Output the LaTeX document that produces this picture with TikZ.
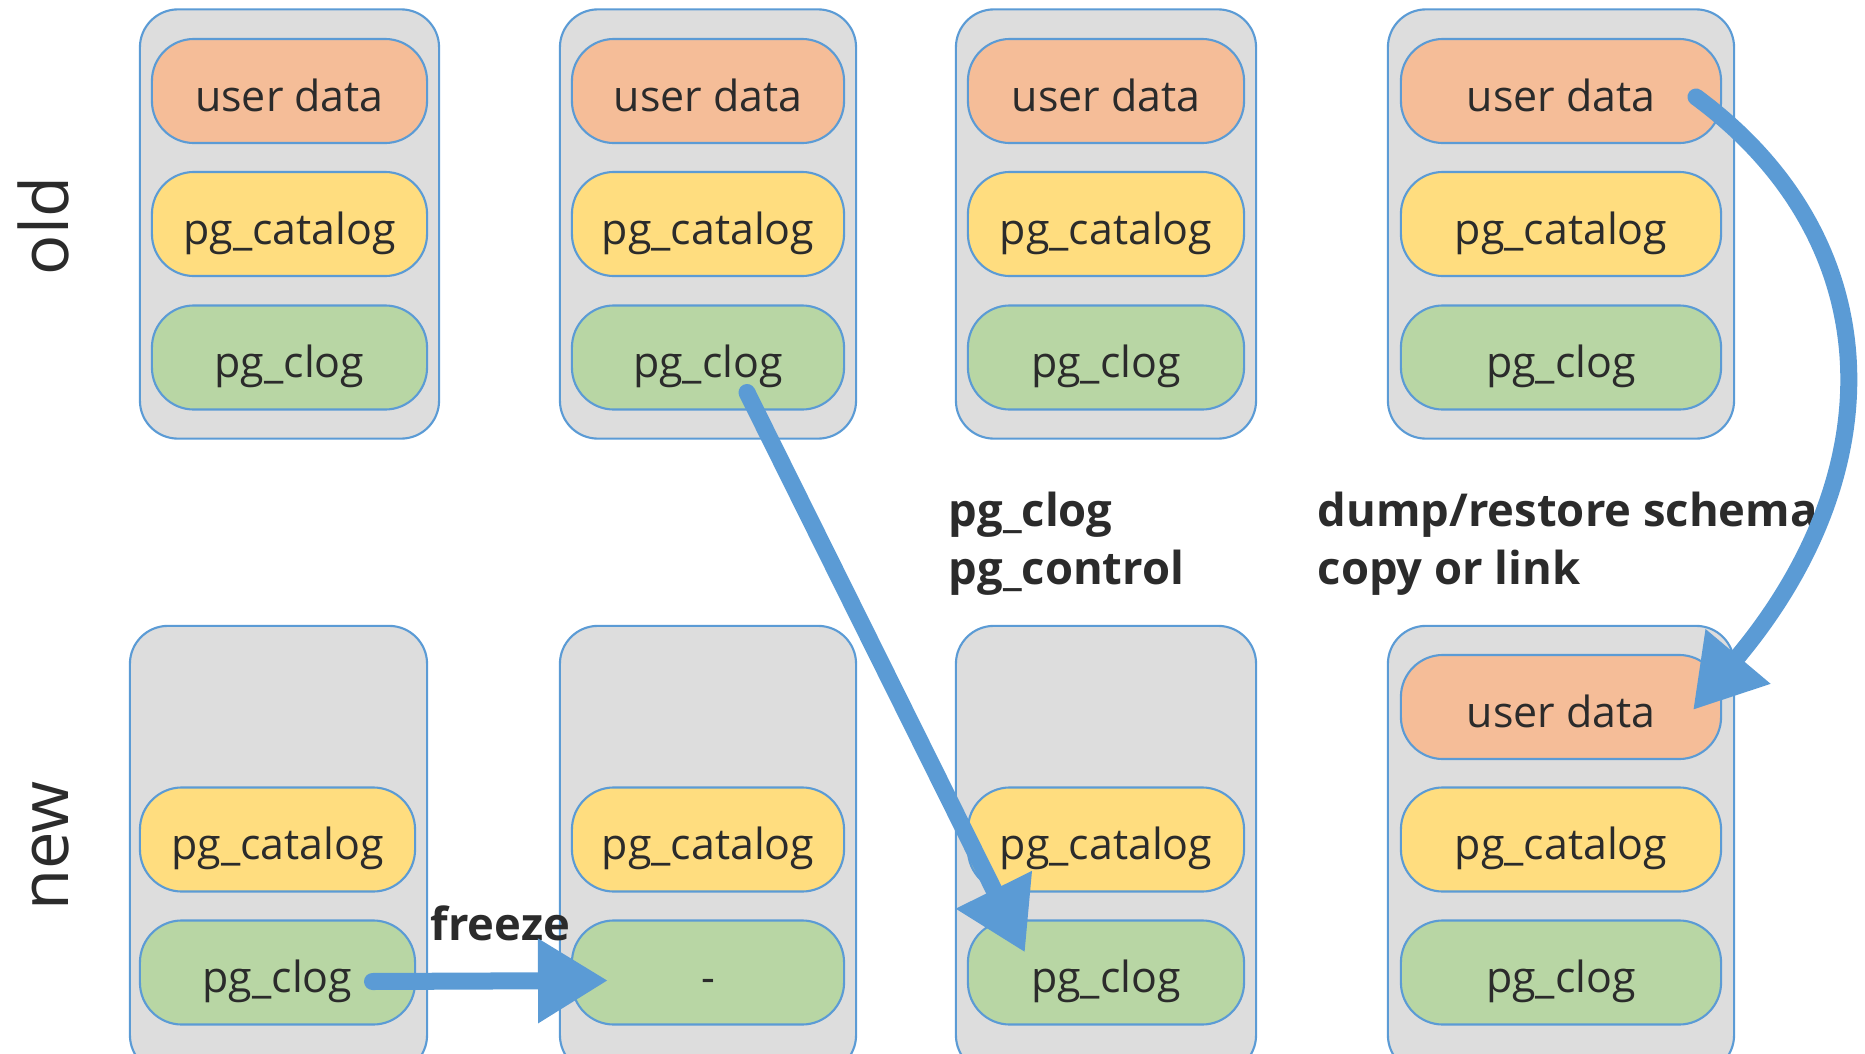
\documentclass[tikz,border=0pt]{standalone}
\usepackage{xcolor}
\usepackage{tikz}
\usetikzlibrary{arrows.meta, positioning, calc}
\usepackage{fontspec}
\setmainfont{Open Sans}
\definecolor{boxblue}{HTML}{5B9BD5}
\definecolor{arrowblue}{HTML}{5B9BD5}
\definecolor{panelgray}{HTML}{DDDDDD}
\definecolor{userorange}{HTML}{F5BD98}
\definecolor{catyellow}{HTML}{FFDD7F}
\definecolor{cloggreen}{HTML}{B8D6A4}
\definecolor{textgray}{HTML}{2B2B2B}

\begin{document}
\begin{tikzpicture}[x=0.01cm, y=-0.01cm,
				panel/.style={draw=boxblue, fill=panelgray, line width=0.6pt, rounded corners=0.38cm, inner sep=0pt},
				slot/.style={draw=boxblue, line width=0.6pt, rounded corners=0.42cm, minimum height=1.04cm, inner sep=0pt,
					text height=0.4cm, text depth=0pt, text=textgray, font=\fontsize{12.2}{15}\selectfont},
				udata/.style={slot, fill=userorange},
				catalog/.style={slot, fill=catyellow},
				clogbox/.style={slot, fill=cloggreen},
				note/.style={align=left, inner sep=0pt, text=textgray, font=\bfseries\fontsize{12.9}{16.5}\selectfont},
				sidetag/.style={anchor=base, rotate=90, inner sep=0pt, text=textgray, font=\fontsize{19}{23}\selectfont},
				bigarrow/.style={-{Triangle[length=0.7cm, width=0.8cm]}, draw=arrowblue, line width=0.17cm, line cap=round}]
				\useasboundingbox (0,0) rectangle (1865,1054);
				\clip (0,0) rectangle (1865,1054);
				\node at (68,226) (oldtag) [sidetag] {old};
				\node at (68,846) (newtag) [sidetag] {new};
				\node at (289.5,224) (old1) [panel, minimum width=2.99cm, minimum height=4.29cm] {};
				\node at (708,224) (old2) [panel, minimum width=2.96cm, minimum height=4.29cm] {};
				\node at (1106,224) (old3) [panel, minimum width=3cm, minimum height=4.29cm] {};
				\node at (1561,224) (old4) [panel, minimum width=3.46cm, minimum height=4.29cm] {};
				\node at (278.5,849.5) (new1) [panel, minimum width=2.97cm, minimum height=4.47cm] {};
				\node at (708,849.5) (new2) [panel, minimum width=2.96cm, minimum height=4.47cm] {};
				\node at (1106,849.5) (new3) [panel, minimum width=3cm, minimum height=4.47cm] {};
				\node at (1561,849.5) (new4) [panel, minimum width=3.46cm, minimum height=4.47cm] {};
				\node at (289.5,91) (oldud1) [udata, minimum width=2.75cm] {user data};
				\node at (289.5,224) (oldcat1) [catalog, minimum width=2.75cm] {pg\_catalog};
				\node at (289.5,357.5) (oldclog1) [clogbox, minimum width=2.75cm] {pg\_clog};
				\node at (708,91) (oldud2) [udata, minimum width=2.72cm] {user data};
				\node at (708,224) (oldcat2) [catalog, minimum width=2.72cm] {pg\_catalog};
				\node at (708,357.5) (oldclog2) [clogbox, minimum width=2.72cm] {pg\_clog};
				\node at (1106,91) (oldud3) [udata, minimum width=2.76cm] {user data};
				\node at (1106,224) (oldcat3) [catalog, minimum width=2.76cm] {pg\_catalog};
				\node at (1106,357.5) (oldclog3) [clogbox, minimum width=2.76cm] {pg\_clog};
				\node at (1561,91) (oldud4) [udata, minimum width=3.2cm] {user data};
				\node at (1561,224) (oldcat4) [catalog, minimum width=3.2cm] {pg\_catalog};
				\node at (1561,357.5) (oldclog4) [clogbox, minimum width=3.2cm] {pg\_clog};
				\node at (277.5,839.5) (newcat1) [catalog, minimum width=2.75cm] {pg\_catalog};
				\node at (277.5,972.5) (newclog1) [clogbox, minimum width=2.75cm] {pg\_clog};
				\node at (708,839.5) (newcat2) [catalog, minimum width=2.72cm] {pg\_catalog};
				\node at (708,972.5) (newclog2) [clogbox, minimum width=2.72cm] {-};
				\node at (1106,839.5) (newcat3) [catalog, minimum width=2.76cm] {pg\_catalog};
				\node at (1106,972.5) (newclog3) [clogbox, minimum width=2.76cm] {pg\_clog};
				\node at (1561,707) (newud4) [udata, minimum width=3.2cm] {user data};
				\node at (1561,839.5) (newcat4) [catalog, minimum width=3.2cm] {pg\_catalog};
				\node at (1561,972.5) (newclog4) [clogbox, minimum width=3.2cm] {pg\_clog};
				\node at (948,491) (clognote) [note, anchor=north west] {pg\_clog\\pg\_control};
				\node at (1317,491) (schemanote) [note, anchor=north west] {dump/restore schema\\copy or link};
				\node at (430,940) (freezenote) [note, anchor=base west] {freeze};
				\draw[bigarrow] ($(newclog1.center)+(95,9)$) -- ($(newclog2.center)+(-100,8)$);
				\draw[bigarrow] ($(oldclog2.center)+(39,35)$) -- ($(newclog3.center)+(-81,-20)$);
				\draw[bigarrow] ($(oldud4.center)+(135,6)$) .. controls (1890,240) and (1895,470) .. ($(newud4.center)+(132,3)$);
			\end{tikzpicture}
\end{document}
